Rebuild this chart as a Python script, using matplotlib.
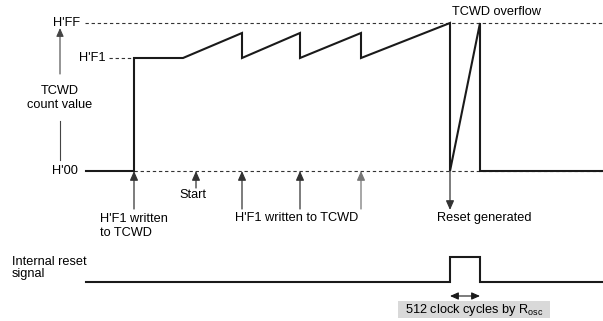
import matplotlib.pyplot as plt
from matplotlib.patches import Rectangle

plt.rcParams['font.family'] = ['Liberation Sans', 'DejaVu Sans']

# levels (pixel rows of the drawing)
lvl_ff = 23
lvl_f1 = 58
lvl_00 = 171

# TCWD count waveform
wave_x = [86, 134, 134, 183, 242, 242, 300, 300, 361, 361, 450, 450, 480, 480, 603]
wave_y = [171, 171, 58, 58, 33, 58, 33, 58, 33, 58, 23, 171, 23, 171, 171]

# internal reset signal
rst_x = [86, 450, 450, 480, 480, 603]
rst_y = [282, 282, 257, 257, 282, 282]

# write / start markers
write_x = [134, 242, 300, 361]
start_x = 196
reset_x = 450

fig = plt.figure(figsize=(6.03, 3.21), dpi=100)
ax = fig.add_axes([0, 0, 1, 1])
ax.set_xlim(0, 603)
ax.set_ylim(321, 0)
ax.axis('off')

fs = 9.2
dash = dict(color='#333333', lw=0.8, ls=(0, (3, 2.5)))

# dashed reference levels
ax.plot([85, 603], [lvl_ff, lvl_ff], **dash)
ax.plot([109, 134], [lvl_f1, lvl_f1], **dash)
ax.plot([134, 603], [lvl_00, lvl_00], **dash)

# waveform
ax.plot(wave_x, wave_y, color='#1a1a1a', lw=1.5, solid_joinstyle='miter')
ax.plot(rst_x, rst_y, color='#1a1a1a', lw=1.5, solid_joinstyle='miter')

# level labels
ax.text(80, lvl_ff, "H'FF", ha='right', va='center', fontsize=fs)
ax.text(106, lvl_f1, "H'F1", ha='right', va='center', fontsize=fs)
ax.text(78, lvl_00, "H'00", ha='right', va='center', fontsize=fs)

# y axis arrow
ax.annotate('', xy=(60, 28), xytext=(60, 74),
            arrowprops=dict(arrowstyle='-|>,head_length=0.5,head_width=0.22',
                            color='#444444', lw=0.8,
                            mutation_scale=10, shrinkA=0, shrinkB=0))
ax.plot([60, 60], [121, 160], color='#444444', lw=0.8)
ax.text(60, 98, "TCWD\ncount value", ha='center', va='center', fontsize=fs,
        linespacing=1.2)

ap = dict(arrowstyle='-|>,head_length=0.5,head_width=0.22', color='#333333',
          lw=0.9, mutation_scale=11, shrinkA=0, shrinkB=0)
for x in write_x:
    c = '#777777' if x == write_x[-1] else '#333333'
    ax.annotate('', xy=(x, lvl_00), xytext=(x, 209),
                arrowprops=dict(ap, color=c))
ax.annotate('', xy=(start_x, lvl_00), xytext=(start_x, 188), arrowprops=ap)
ax.annotate('', xy=(reset_x, 210), xytext=(reset_x, lvl_00), arrowprops=ap)

ax.text(193, 195, "Start", ha='center', va='center', fontsize=fs)
ax.text(100, 226, "H'F1 written\nto TCWD", ha='left', va='center', fontsize=fs,
        linespacing=1.2)
ax.text(235, 218, "H'F1 written to TCWD", ha='left', va='center', fontsize=fs)
ax.text(437, 218, "Reset generated", ha='left', va='center', fontsize=fs)
ax.text(452, 12, "TCWD overflow", ha='left', va='center', fontsize=fs)
ax.text(12, 268, "Internal reset\nsignal", ha='left', va='center', fontsize=fs,
        linespacing=1.05)

# pulse width marker
ax.annotate('', xy=(450, 296), xytext=(480, 296),
            arrowprops=dict(arrowstyle='<|-|>,head_length=0.5,head_width=0.22',
                            color='#1a1a1a', lw=0.8,
                            mutation_scale=10, shrinkA=0, shrinkB=0))
ax.add_patch(Rectangle((398, 301), 152, 17, facecolor='#d9d9d9',
                       edgecolor='none'))
ax.text(474, 309.5, r"512 clock cycles by R$_{\mathregular{osc}}$",
        ha='center', va='center', fontsize=fs)

fig.savefig('out.png', dpi=100)
